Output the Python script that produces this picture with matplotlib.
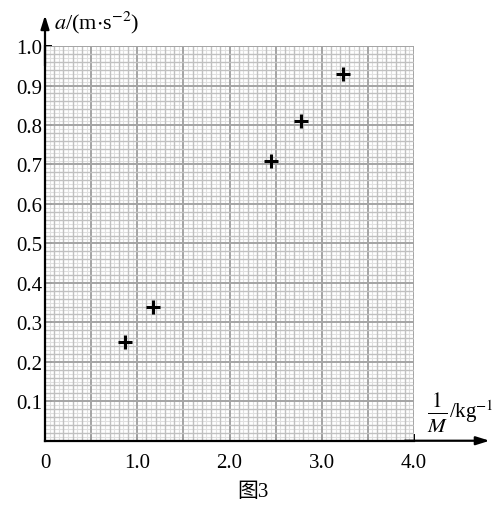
import matplotlib.pyplot as plt
import numpy as np

plt.rcParams['mathtext.fontset'] = 'stix'
plt.rcParams['font.family'] = ['Liberation Serif', 'Noto Sans CJK SC']

# data
inv_mass = [0.87, 1.17, 2.45, 2.78, 3.23]
accel = [0.25, 0.34, 0.71, 0.81, 0.93]
x_ticks = [0, 1.0, 2.0, 3.0, 4.0]
x_tick_labels = ['0', '1.0', '2.0', '3.0', '4.0']
y_ticks = [0.1, 0.2, 0.3, 0.4, 0.5, 0.6, 0.7, 0.8, 0.9, 1.0]

fig = plt.figure(figsize=(5, 5.06), dpi=100)
ax = fig.add_axes([0.09, 0.127, 0.738, 0.78])
ax.set_xlim(0, 4)
ax.set_ylim(0, 1)


def line_style(v, big, mid):
    # graph paper: dark every big step, medium every mid step, light otherwise
    if abs(v / big - round(v / big)) < 1e-6:
        return '#a4a4a4', 1.4
    if abs(v / mid - round(v / mid)) < 1e-6:
        return '#c0c0c0', 1.0
    return '#e0e0e0', 0.8


for x in np.arange(0.05, 4.001, 0.05):
    c, w = line_style(x, 0.5, 0.1)
    ax.axvline(x, color=c, lw=w, zorder=1 if w < 1 else 2)
for y in np.arange(0.01, 1.0001, 0.01):
    c, w = line_style(y, 0.1, 0.02)
    ax.axhline(y, color=c, lw=w, zorder=1 if w < 1 else 2)

ax.plot(inv_mass, accel, linestyle='none', marker='+', ms=10, mew=2.2,
        color='black', zorder=5)

for side in ['top', 'right']:
    ax.spines[side].set_visible(False)
for side in ['left', 'bottom']:
    ax.spines[side].set_linewidth(1.6)
    ax.spines[side].set_zorder(4)

# axis arrows
ax.annotate('', xy=(4.82, 0), xytext=(3.9, 0), annotation_clip=False,
            arrowprops=dict(arrowstyle='-|>,head_length=0.8,head_width=0.25',
                            color='black', lw=1.6, shrinkA=0, shrinkB=0))
ax.annotate('', xy=(0, 1.078), xytext=(0, 0.95), annotation_clip=False,
            arrowprops=dict(arrowstyle='-|>,head_length=0.8,head_width=0.25',
                            color='black', lw=1.6, shrinkA=0, shrinkB=0))

ax.set_xticks([0.5, 1.0, 1.5, 2.0, 2.5, 3.0, 3.5, 4.0])
ax.set_xticklabels([])
ax.tick_params(axis='x', direction='in', length=5, width=1.4)
ax.set_yticks(y_ticks)
ax.set_yticklabels(['%.1f' % v for v in y_ticks], fontsize=15)
ax.tick_params(axis='y', direction='in', length=5, width=1.4, pad=2)

for v, lab in zip(x_ticks, x_tick_labels):
    ax.text(v, -0.03, lab, ha='center', va='top', fontsize=15,
            transform=ax.get_xaxis_transform())

ax.text(0.025, 1.06, r'$a$/(m$\cdot$s$^{-2}$)', fontsize=16,
        ha='left', va='center', transform=ax.transAxes)
ax.text(1.035, 0.072, r'$\frac{1}{M}$', fontsize=22,
        ha='left', va='center', transform=ax.transAxes)
ax.text(1.095, 0.075, r'/kg$^{-1}$', fontsize=15,
        ha='left', va='center', transform=ax.transAxes)
fig.text(0.506, 0.027, '图3', fontsize=15, ha='center', va='center')

fig.savefig('out.png', dpi=100)
